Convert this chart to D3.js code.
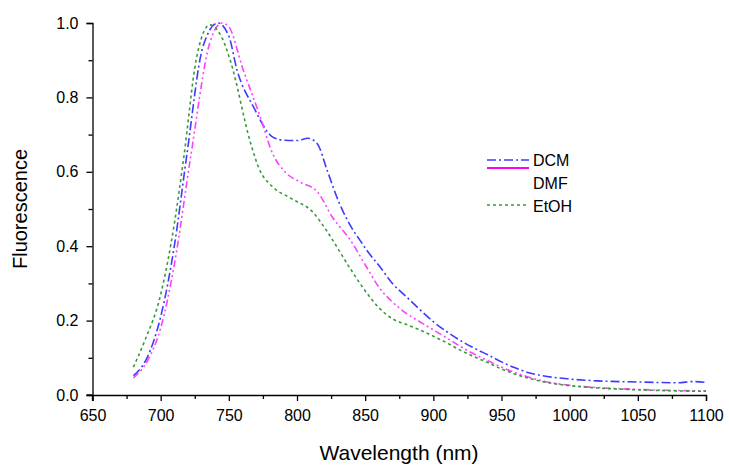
<!DOCTYPE html>
<html><head><meta charset="utf-8">
<script src="https://cdn.jsdelivr.net/npm/d3@7"></script>
<style>body{margin:0;background:#fff;} text{font-family:"Liberation Sans",Arial,sans-serif;}</style>
</head><body>
<svg id="c" width="729" height="466"></svg>
<script>
const seriesNames = ["DCM", "DMF", "EtOH"];
const xTicks = [650,700,750,800,850,900,950,1000,1050,1100];
const yTicks = [0.0,0.2,0.4,0.6,0.8,1.0];
const dcmX = [680,690,700,710,719,731,742,750,756,768,782,790,800,808,815,822,831,840,846,851,861,870,880,890,900,910,920,930,940,950,960,970,980,1000,1020,1050,1080,1090,1100];
const dcmY = [0.052,0.10,0.21,0.40,0.64,0.936,1.0,0.965,0.874,0.775,0.694,0.685,0.684,0.69,0.675,0.605,0.516,0.45,0.417,0.39,0.344,0.30,0.265,0.23,0.197,0.17,0.146,0.126,0.108,0.089,0.073,0.06,0.052,0.043,0.038,0.035,0.033,0.036,0.034];
const dmfX = [680,690,700,710,722,736,745,750,760,773,782,792,802,815,826,839,851,860,870,880,890,900,910,920,930,940,950,960,970,980,1000,1020,1050,1080,1100];
const dmfY = [0.046,0.09,0.18,0.35,0.64,0.946,1.0,0.99,0.88,0.748,0.65,0.597,0.573,0.546,0.478,0.417,0.344,0.29,0.25,0.22,0.197,0.175,0.153,0.13,0.11,0.092,0.075,0.06,0.048,0.038,0.026,0.02,0.015,0.012,0.011];
const etohX = [680,688,700,710,717,726,736,745,751,766,772,782,795,812,822,839,850,860,870,880,890,900,910,920,930,940,950,960,970,980,1000,1020,1050,1080,1100];
const etohY = [0.075,0.143,0.27,0.46,0.64,0.90,0.995,0.96,0.90,0.677,0.61,0.56,0.53,0.49,0.44,0.34,0.28,0.235,0.205,0.19,0.175,0.158,0.14,0.12,0.103,0.087,0.07,0.056,0.045,0.036,0.025,0.019,0.014,0.011,0.01];

const svg = d3.select("#c");
const x = d3.scaleLinear().domain([650,1100]).range([92.5,706]);
const y = d3.scaleLinear().domain([0,1]).range([395,23]);

// axes
const xMinor = d3.range(650,1101,25).filter(v=>v%50!==0);
const yMinor = [0.1,0.3,0.5,0.7,0.9];
const gx = svg.append("g").attr("transform","translate(0,395)");
gx.call(d3.axisBottom(x).tickValues(xTicks).tickFormat(d3.format("d")).tickSize(6).tickPadding(9));
gx.append("g").call(d3.axisBottom(x).tickValues(xMinor).tickFormat("").tickSize(4)).select(".domain").remove();
const gy = svg.append("g").attr("transform","translate(92.5,0)");
gy.call(d3.axisLeft(y).tickValues(yTicks).tickFormat(d3.format(".1f")).tickSize(6).tickPadding(8));
gy.append("g").call(d3.axisLeft(y).tickValues(yMinor).tickFormat("").tickSize(4)).select(".domain").remove();
svg.selectAll(".domain").attr("stroke","#000").attr("stroke-width",1.3);
svg.selectAll(".tick line").attr("stroke","#000").attr("stroke-width",1.3);
svg.selectAll(".tick text").attr("font-size",16).attr("fill","#000").style("font-family","Liberation Sans, Arial, sans-serif");
svg.append("line").attr("x1",86.5).attr("x2",92.5).attr("y1",395).attr("y2",395).attr("stroke","#000").attr("stroke-width",1.3);
svg.append("line").attr("x1",92.5).attr("x2",92.5).attr("y1",395).attr("y2",401).attr("stroke","#000").attr("stroke-width",1.3);

svg.append("text").attr("x",399).attr("y",460).attr("text-anchor","middle").attr("font-size",21).text("Wavelength (nm)");
svg.append("text").attr("transform","translate(27,209) rotate(-90)").attr("text-anchor","middle").attr("font-size",20).text("Fluorescence");

const series = [
  {name:seriesNames[0], xs:dcmX, ys:dcmY, color:"#3c3cff", dash:"9,3,2,3"},
  {name:seriesNames[1], xs:dmfX, ys:dmfY, color:"#ff40ff", dash:"7,3,2,3,2,3"},
  {name:seriesNames[2], xs:etohX, ys:etohY, color:"#3a9a3a", dash:"3,3"}
];
const line = d3.line().x(d=>x(d[0])).y(d=>y(d[1])).curve(d3.curveMonotoneX);
series.forEach(s=>{
  svg.append("path").datum(s.xs.map((v,i)=>[v,s.ys[i]]))
    .attr("d",line).attr("fill","none").attr("stroke",s.color)
    .attr("stroke-width",1.6).attr("stroke-dasharray",s.dash);
});

// legend (reproducing original layout)
const lg = svg.append("g");
lg.append("line").attr("x1",487).attr("x2",529).attr("y1",160).attr("y2",160).attr("stroke",series[0].color).attr("stroke-width",1.6).attr("stroke-dasharray",series[0].dash);
lg.append("line").attr("x1",487).attr("x2",529).attr("y1",168).attr("y2",168).attr("stroke","#ff00ff").attr("stroke-width",2);
lg.append("line").attr("x1",487).attr("x2",529).attr("y1",205).attr("y2",205).attr("stroke",series[2].color).attr("stroke-width",1.6).attr("stroke-dasharray",series[2].dash);
lg.append("text").attr("x",533).attr("y",166).attr("font-size",16).text(seriesNames[0]);
lg.append("text").attr("x",533).attr("y",189).attr("font-size",16).text(seriesNames[1]);
lg.append("text").attr("x",533).attr("y",212).attr("font-size",16).text(seriesNames[2]);
</script>
</body></html>
